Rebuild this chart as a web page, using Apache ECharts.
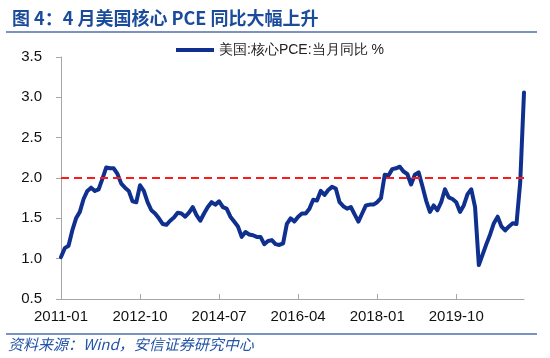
<!DOCTYPE html>
<html>
<head>
<meta charset="utf-8">
<script src="https://cdn.jsdelivr.net/npm/echarts@6/dist/echarts.min.js"></script>
<style>html,body{margin:0;padding:0;background:#fff}#c{width:550px;height:358px}</style>
</head>
<body>
<div id="c"></div>
<script>
// Series: 美国:核心PCE:当月同比 (%), monthly 2011-01 .. 2021-04
var startYear = 2011, startMonth = 1;
var pceYoY = [
  1.02, 1.13, 1.16, 1.35, 1.50, 1.58, 1.74, 1.84, 1.88, 1.84, 1.86, 1.99,
  2.13, 2.12, 2.12, 2.05, 1.93, 1.88, 1.84, 1.71, 1.70, 1.91, 1.84, 1.70,
  1.60, 1.56, 1.50, 1.43, 1.42, 1.47, 1.51, 1.57, 1.56, 1.52, 1.57, 1.64,
  1.54, 1.47, 1.56, 1.64, 1.70, 1.67, 1.71, 1.64, 1.62, 1.52, 1.46, 1.40,
  1.27, 1.33, 1.30, 1.29, 1.27, 1.27, 1.18, 1.22, 1.23, 1.18, 1.17, 1.19,
  1.43, 1.50, 1.46, 1.52, 1.56, 1.56, 1.62, 1.73, 1.72, 1.84, 1.79, 1.85,
  1.89, 1.87, 1.70, 1.65, 1.62, 1.64, 1.55, 1.46, 1.56, 1.66, 1.67, 1.67,
  1.70, 1.75, 2.04, 2.03, 2.11, 2.12, 2.14, 2.08, 2.05, 1.92, 2.04, 2.07,
  1.90, 1.72, 1.58, 1.66, 1.60, 1.70, 1.86, 1.76, 1.74, 1.70, 1.58, 1.66,
  1.80, 1.86, 1.64, 0.92, 1.05, 1.18, 1.30, 1.44, 1.52, 1.40, 1.35, 1.40,
  1.44, 1.43, 1.95, 3.06
];
var targetLevel = 2.0;
var seriesName = '美国:核心PCE:当月同比 %';
var titleText = '图 4：4 月美国核心 PCE 同比大幅上升';
var sourceText = '资料来源：Wind，安信证券研究中心';

var months = [];
for (var k = 0; k < pceYoY.length; k++) {
  var m = startMonth - 1 + k;
  var y = startYear + Math.floor(m / 12);
  var mm = (m % 12) + 1;
  months.push(y + '-' + (mm < 10 ? '0' + mm : mm));
}

var chart = echarts.init(document.getElementById('c'), null, {renderer: 'canvas'});
var axisGray = '#A6A6A6';
chart.setOption({
  animation: false,
  backgroundColor: '#fff',
  title: {
    text: titleText,
    left: 7, top: 4,
    textStyle: {fontFamily: '"Noto Sans CJK SC", sans-serif', fontSize: 18, fontWeight: 'bold', color: '#1B4B9B'}
  },
  graphic: [
    {type: 'line', shape: {x1: 6, y1: 32, x2: 537, y2: 32}, style: {stroke: '#4C6FB5', lineWidth: 1.5}},
    {type: 'line', shape: {x1: 6, y1: 334, x2: 537, y2: 334}, style: {stroke: '#4C6FB5', lineWidth: 1.5}},
    {type: 'text', left: 8, top: 337, style: {text: sourceText, fill: '#2354A5', fontSize: 15, fontStyle: 'italic', fontFamily: '"Noto Sans CJK SC", sans-serif'}}
  ],
  legend: {
    left: 171, top: 38,
    itemWidth: 38, itemHeight: 4, icon: 'rect', itemGap: 10,
    textStyle: {fontSize: 14, color: '#222', fontFamily: 'Liberation Sans, Arial, sans-serif'},
    data: [seriesName]
  },
  grid: {left: 61, right: 26, top: 57, bottom: 59},
  xAxis: {
    type: 'category',
    data: months,
    boundaryGap: false,
    axisLine: {lineStyle: {color: axisGray, width: 1}},
    axisTick: {inside: true, length: 5, interval: 20, lineStyle: {color: axisGray}},
    axisLabel: {interval: 20, margin: 10, fontSize: 15, color: '#111', fontFamily: 'Liberation Sans, Arial, sans-serif'},
    splitLine: {show: false}
  },
  yAxis: {
    type: 'value',
    min: 0.5, max: 3.5, interval: 0.5,
    axisLine: {show: true, lineStyle: {color: axisGray, width: 1}},
    axisTick: {show: true, length: 5, lineStyle: {color: axisGray}},
    axisLabel: {margin: 19, fontSize: 15, color: '#111', fontFamily: 'Liberation Sans, Arial, sans-serif',
      formatter: function (v) { return v.toFixed(1); }},
    splitLine: {show: false}
  },
  series: [{
    name: seriesName,
    type: 'line',
    data: pceYoY,
    showSymbol: false,
    symbol: 'none',
    color: '#10308F',
    lineStyle: {color: '#10308F', width: 4, join: 'round', cap: 'round'},
    markLine: {
      silent: true,
      symbol: 'none',
      label: {show: false},
      lineStyle: {color: '#FF1A1A', type: [8, 5], width: 2},
      data: [{yAxis: targetLevel}]
    }
  }]
});
</script>
</body>
</html>
